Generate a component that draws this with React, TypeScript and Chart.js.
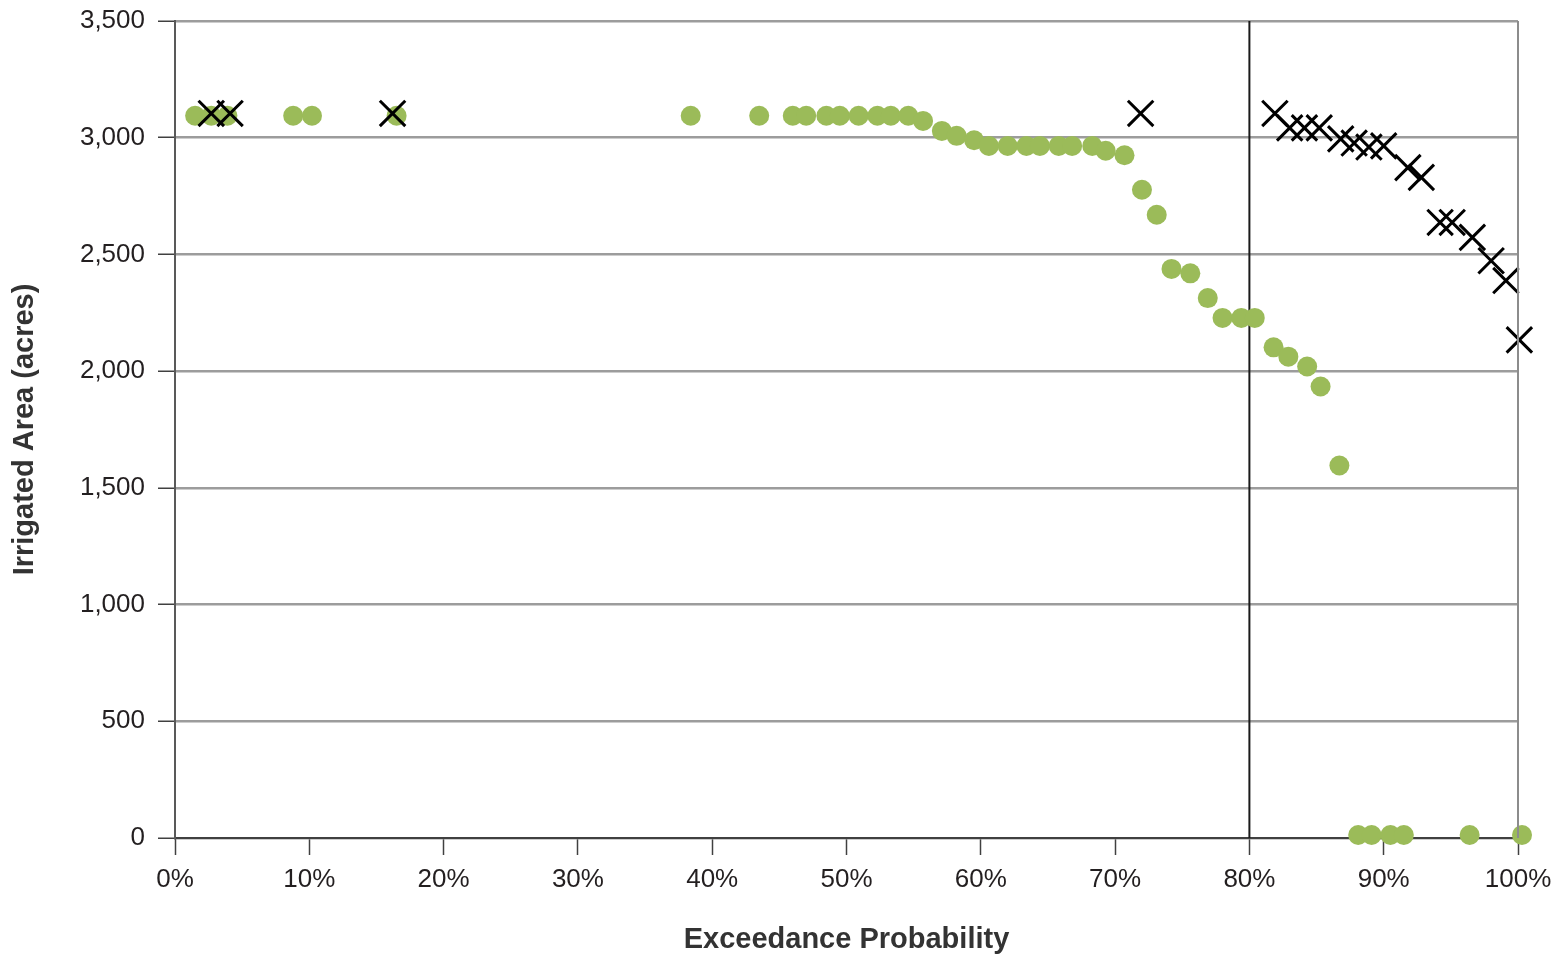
import React, { useEffect, useRef } from "react";
import { Chart, registerables } from "chart.js";

Chart.register(...registerables);

// Exceedance probability (%) and irrigated area (acres)
const greenProb = [1.5, 2.7, 3.9, 8.8, 10.2, 16.5, 38.4, 43.5, 46.0, 47.0, 48.5, 49.5, 50.9, 52.3, 53.3, 54.6, 55.7, 57.1, 58.2, 59.5, 60.6, 62.0, 63.4, 64.4, 65.8, 66.8, 68.3, 69.3, 70.7, 72.0, 73.1, 74.2, 75.6, 76.9, 78.0, 79.4, 80.4, 81.8, 82.9, 84.3, 85.3, 86.7, 88.1, 89.1, 90.5, 91.5, 96.4, 100.3];
const greenArea = [3094, 3094, 3094, 3094, 3094, 3094, 3094, 3094, 3094, 3094, 3094, 3094, 3094, 3094, 3094, 3094, 3072, 3029, 3008, 2989, 2965, 2965, 2965, 2965, 2965, 2965, 2965, 2944, 2925, 2777, 2670, 2438, 2419, 2313, 2228, 2228, 2228, 2102, 2062, 2020, 1934, 1596, 13, 13, 13, 13, 13, 13];

const crossProb = [2.7, 4.1, 16.2, 71.9, 81.9, 83.0, 84.1, 85.2, 86.8, 87.8, 88.9, 90.0, 91.8, 92.8, 94.2, 95.1, 96.6, 98.0, 99.1, 100.1];
const crossArea = [3104, 3104, 3104, 3104, 3104, 3042, 3042, 3042, 2995, 2977, 2960, 2965, 2872, 2830, 2637, 2637, 2573, 2473, 2388, 2134];

const thresholdProb = [80, 80];
const thresholdArea = [0, 3500];

const xTickStep = 10;
const yTickStep = 500;

const rightBorder = {
  id: "rightBorder",
  afterDatasetsDraw(chart: any) {
    const { ctx, chartArea } = chart;
    ctx.save();
    ctx.strokeStyle = "#8c8c8c";
    ctx.lineWidth = 2;
    ctx.beginPath();
    ctx.moveTo(chartArea.right, chartArea.top);
    ctx.lineTo(chartArea.right, chartArea.bottom);
    ctx.stroke();
    ctx.restore();
  },
};

export default function App() {
  const ref = useRef<HTMLCanvasElement | null>(null);
  useEffect(() => {
    if (!ref.current) return;
    const font = "'Liberation Sans', Arial, sans-serif";
    const chart = new Chart(ref.current, {
      type: "scatter",
      data: {
        datasets: [
          {
            type: "line",
            data: thresholdProb.map((x, i) => ({ x, y: thresholdArea[i] })),
            borderColor: "#1a1a1a",
            borderWidth: 2,
            pointRadius: 0,
            order: 3,
            clip: false,
          } as any,
          {
            data: greenProb.map((x, i) => ({ x, y: greenArea[i] })),
            backgroundColor: "#9bbb59",
            borderColor: "#9bbb59",
            borderWidth: 0,
            pointRadius: 10,
            order: 2,
            clip: false,
          } as any,
          {
            data: crossProb.map((x, i) => ({ x, y: crossArea[i] })),
            pointStyle: "crossRot",
            borderColor: "#000000",
            backgroundColor: "#000000",
            borderWidth: 3,
            pointRadius: 18,
            order: 1,
            clip: false,
          } as any,
        ],
      },
      options: {
        responsive: true,
        maintainAspectRatio: false,
        animation: false,
        layout: { padding: { top: 20, right: 46, bottom: 0, left: 0 } },
        plugins: { legend: { display: false }, tooltip: { enabled: false } },
        scales: {
          x: {
            type: "linear",
            min: 0,
            max: 100,
            afterFit: (s: any) => {
              s.height = 121;
            },
            ticks: {
              stepSize: xTickStep,
              padding: 9,
              color: "#231f20",
              font: { family: font, size: 26 },
              callback: (v: any) => Math.round(Number(v)) + "%",
              maxRotation: 0,
              autoSkip: false,
            },
            grid: {
              drawOnChartArea: false,
              drawTicks: true,
              tickLength: 17,
              tickColor: "#404040",
              tickWidth: 1.5,
            },
            border: { color: "#404040", width: 2 },
            title: {
              display: true,
              text: "Exceedance Probability",
              color: "#333333",
              font: { family: font, size: 29, weight: "bold" },
              padding: { top: 0, bottom: 2 },
            },
          },
          y: {
            type: "linear",
            min: 0,
            max: 3500,
            afterFit: (s: any) => {
              s.width = 175;
              s.paddingTop = 0;
              s.paddingBottom = 0;
            },
            ticks: {
              stepSize: yTickStep,
              padding: 13,
              color: "#231f20",
              font: { family: font, size: 26 },
              callback: (v: any) => Number(v).toLocaleString("en-US"),
            },
            grid: {
              color: "#9c9c9c",
              lineWidth: 2.5,
              drawTicks: true,
              tickLength: 17,
              tickColor: "#404040",
              tickWidth: 1.5,
            },
            border: { color: "#595959", width: 2 },
            title: {
              display: true,
              text: "Irrigated Area (acres)",
              color: "#333333",
              font: { family: font, size: 29, weight: "bold" },
              padding: { top: 8, bottom: 0 },
            },
          },
        },
      },
      plugins: [rightBorder],
    } as any);
    return () => chart.destroy();
  }, []);
  return (
    <div style={{ position: "fixed", left: 0, top: 0, width: "1564px", height: "959px", background: "#ffffff" }}>
      <canvas ref={ref} />
    </div>
  );
}
